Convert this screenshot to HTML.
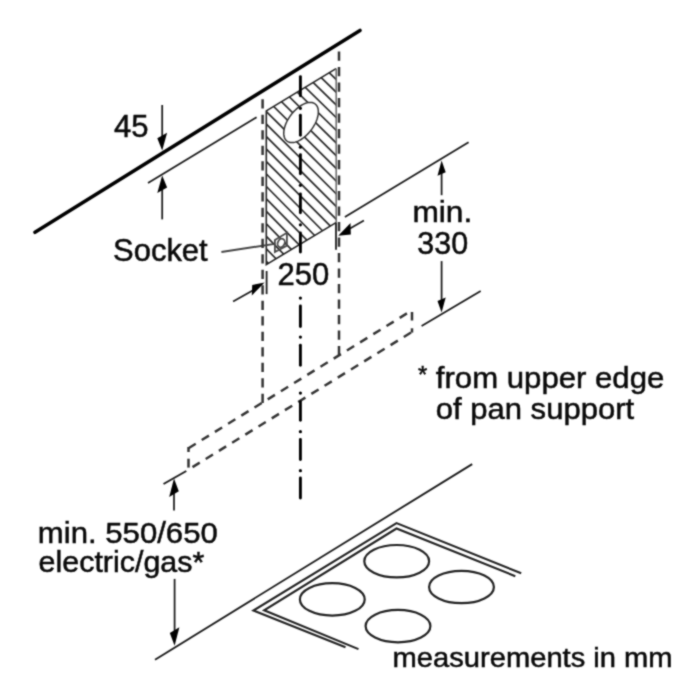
<!DOCTYPE html>
<html><head><meta charset="utf-8"><title>Installation dimensions</title>
<style>
html,body{margin:0;padding:0;background:#fff;}
body{width:700px;height:700px;overflow:hidden;}
svg{display:block;}
text{font-family:"Liberation Sans",Arial,Helvetica,sans-serif;fill:#0a0a0a;stroke:#0a0a0a;stroke-width:0.5px;}
</style></head>
<body>
<svg width="700" height="700" viewBox="0 0 700 700">
<defs><filter id="soft" x="0" y="0" width="700" height="700" filterUnits="userSpaceOnUse" color-interpolation-filters="sRGB"><feConvolveMatrix order="3" kernelMatrix="0.0435 0.1015 0.0435 0.1015 0.4200 0.1015 0.0435 0.1015 0.0435" edgeMode="duplicate" preserveAlpha="true"/></filter></defs>
<rect width="700" height="700" fill="#fff"/>
<g filter="url(#soft)">
<rect width="700" height="700" fill="#fff"/>
<line x1="35.00" y1="232.30" x2="360.00" y2="30.40" stroke="#000" stroke-width="3.5" stroke-linecap="round"/>
<line x1="148.00" y1="183.00" x2="256.60" y2="117.20" stroke="#1c1c1c" stroke-width="1.8" />
<line x1="162.20" y1="105.00" x2="162.20" y2="140.00" stroke="#1c1c1c" stroke-width="1.75" />
<polygon points="162.20,150.40 157.30,138.30 167.10,132.70" fill="#000"/>
<line x1="162.20" y1="219.40" x2="162.20" y2="186.00" stroke="#1c1c1c" stroke-width="1.75" />
<polygon points="162.20,175.40 167.10,187.50 157.30,193.10" fill="#000"/>
<defs><clipPath id="rc"><polygon points="266.3,110.9 336,68.6 336,222.6 266.3,264.6"/></clipPath></defs>
<g clip-path="url(#rc)">
<line x1="260.00" y1="-6.71" x2="342.00" y2="72.39" stroke="#2a2a2a" stroke-width="1.7" />
<line x1="260.00" y1="5.74" x2="342.00" y2="85.11" stroke="#2a2a2a" stroke-width="1.7" />
<line x1="260.00" y1="18.19" x2="342.00" y2="97.83" stroke="#2a2a2a" stroke-width="1.7" />
<line x1="260.00" y1="30.64" x2="342.00" y2="110.55" stroke="#2a2a2a" stroke-width="1.7" />
<line x1="260.00" y1="43.09" x2="342.00" y2="123.27" stroke="#2a2a2a" stroke-width="1.7" />
<line x1="260.00" y1="55.54" x2="342.00" y2="135.99" stroke="#2a2a2a" stroke-width="1.7" />
<line x1="260.00" y1="67.99" x2="342.00" y2="148.71" stroke="#2a2a2a" stroke-width="1.7" />
<line x1="260.00" y1="80.44" x2="342.00" y2="161.43" stroke="#2a2a2a" stroke-width="1.7" />
<line x1="260.00" y1="92.89" x2="342.00" y2="174.15" stroke="#2a2a2a" stroke-width="1.7" />
<line x1="260.00" y1="105.34" x2="342.00" y2="186.87" stroke="#2a2a2a" stroke-width="1.7" />
<line x1="260.00" y1="117.79" x2="342.00" y2="199.59" stroke="#2a2a2a" stroke-width="1.7" />
<line x1="260.00" y1="130.23" x2="342.00" y2="212.31" stroke="#2a2a2a" stroke-width="1.7" />
<line x1="260.00" y1="142.68" x2="342.00" y2="225.02" stroke="#2a2a2a" stroke-width="1.7" />
<line x1="260.00" y1="155.13" x2="342.00" y2="237.74" stroke="#2a2a2a" stroke-width="1.7" />
<line x1="260.00" y1="167.58" x2="342.00" y2="250.46" stroke="#2a2a2a" stroke-width="1.7" />
<line x1="260.00" y1="180.03" x2="342.00" y2="263.18" stroke="#2a2a2a" stroke-width="1.7" />
<line x1="260.00" y1="192.48" x2="342.00" y2="275.90" stroke="#2a2a2a" stroke-width="1.7" />
<line x1="260.00" y1="204.93" x2="342.00" y2="288.62" stroke="#2a2a2a" stroke-width="1.7" />
<line x1="260.00" y1="217.38" x2="342.00" y2="301.34" stroke="#2a2a2a" stroke-width="1.7" />
<line x1="260.00" y1="229.83" x2="342.00" y2="314.06" stroke="#2a2a2a" stroke-width="1.7" />
<line x1="260.00" y1="242.28" x2="342.00" y2="326.78" stroke="#2a2a2a" stroke-width="1.7" />
<line x1="260.00" y1="254.73" x2="342.00" y2="339.50" stroke="#2a2a2a" stroke-width="1.7" />
<line x1="260.00" y1="267.18" x2="342.00" y2="352.22" stroke="#2a2a2a" stroke-width="1.7" />
</g>
<polyline points="336,222.6 266.3,264.6 266.3,110.9 336,68.6" fill="none" stroke="#222" stroke-width="1.6"/>
<line x1="336.20" y1="68.60" x2="336.20" y2="222.60" stroke="#666" stroke-width="1.5" />
<polygon points="318.35,111.80 318.28,113.32 318.09,114.91 317.76,116.56 317.31,118.26 316.73,119.99 316.03,121.73 315.22,123.49 314.30,125.23 313.28,126.95 312.17,128.64 310.97,130.29 309.70,131.87 308.36,133.39 306.97,134.82 305.53,136.15 304.05,137.38 302.56,138.50 301.05,139.50 299.54,140.37 298.05,141.10 296.57,141.69 295.13,142.13 293.74,142.43 292.40,142.57 291.13,142.56 289.93,142.40 288.82,142.09 287.80,141.62 286.88,141.02 286.07,140.27 285.37,139.38 284.79,138.37 284.34,137.24 284.01,135.99 283.82,134.64 283.75,133.20 283.82,131.68 284.01,130.09 284.34,128.44 284.79,126.74 285.37,125.01 286.07,123.27 286.88,121.51 287.80,119.77 288.82,118.05 289.93,116.36 291.13,114.71 292.40,113.13 293.74,111.61 295.13,110.18 296.57,108.85 298.05,107.62 299.54,106.50 301.05,105.50 302.56,104.63 304.05,103.90 305.53,103.31 306.97,102.87 308.36,102.57 309.70,102.43 310.97,102.44 312.17,102.60 313.28,102.91 314.30,103.38 315.22,103.98 316.03,104.73 316.73,105.62 317.31,106.63 317.76,107.76 318.09,109.01 318.28,110.36" fill="#fff" stroke="#333" stroke-width="1.5"/>
<polygon points="274.9,240.0 286.9,232.8 286.9,245.6 274.9,252.0" fill="none" stroke="#4a4a4a" stroke-width="1.8"/>
<ellipse cx="281.2" cy="243.0" rx="3.4" ry="4.4" fill="#fff" stroke="#4a4a4a" stroke-width="1.8" transform="rotate(25 281.2 243.0)"/>
<line x1="221.40" y1="252.00" x2="274.60" y2="243.90" stroke="#444" stroke-width="1.9" />
<line x1="262.60" y1="99.20" x2="262.60" y2="403.00" stroke="#333" stroke-width="2.5" stroke-dasharray="9.2 6.3"/>
<line x1="339.00" y1="51.50" x2="339.00" y2="355.80" stroke="#333" stroke-width="2.5" stroke-dasharray="9.2 6.3"/>
<line x1="188.50" y1="448.20" x2="412.00" y2="310.30" stroke="#333" stroke-width="2.5" stroke-dasharray="8.5 7.01"/>
<line x1="188.50" y1="469.60" x2="412.00" y2="331.90" stroke="#333" stroke-width="2.5" stroke-dasharray="8.5 7.01" stroke-dashoffset="10.8"/>
<line x1="188.50" y1="447.00" x2="188.50" y2="452.00" stroke="#333" stroke-width="2.5" />
<line x1="188.50" y1="458.70" x2="188.50" y2="467.60" stroke="#333" stroke-width="2.5" />
<line x1="412.00" y1="312.00" x2="412.00" y2="320.50" stroke="#333" stroke-width="2.5" />
<line x1="412.00" y1="328.30" x2="412.00" y2="332.60" stroke="#333" stroke-width="2.5" />
<line x1="300.40" y1="76.60" x2="300.40" y2="95.80" stroke="#000" stroke-width="2.9" stroke-linecap="round"/>
<line x1="300.40" y1="115.20" x2="300.40" y2="135.20" stroke="#000" stroke-width="2.9" stroke-linecap="round"/>
<line x1="300.40" y1="154.60" x2="300.40" y2="173.80" stroke="#000" stroke-width="2.9" stroke-linecap="round"/>
<line x1="300.40" y1="193.90" x2="300.40" y2="212.80" stroke="#000" stroke-width="2.9" stroke-linecap="round"/>
<line x1="300.40" y1="232.90" x2="300.40" y2="252.00" stroke="#000" stroke-width="2.9" stroke-linecap="round"/>
<line x1="300.40" y1="305.90" x2="300.40" y2="326.60" stroke="#000" stroke-width="2.9" stroke-linecap="round"/>
<line x1="300.40" y1="345.20" x2="300.40" y2="365.20" stroke="#000" stroke-width="2.9" stroke-linecap="round"/>
<line x1="300.40" y1="401.60" x2="300.40" y2="420.20" stroke="#000" stroke-width="2.9" stroke-linecap="round"/>
<line x1="300.40" y1="439.50" x2="300.40" y2="459.50" stroke="#000" stroke-width="2.9" stroke-linecap="round"/>
<line x1="300.40" y1="478.00" x2="300.40" y2="498.10" stroke="#000" stroke-width="2.9" stroke-linecap="round"/>
<circle cx="300.4" cy="108.3" r="1.6" fill="#000"/>
<circle cx="300.4" cy="147.2" r="1.6" fill="#000"/>
<circle cx="300.4" cy="185.3" r="1.6" fill="#000"/>
<circle cx="300.4" cy="224.8" r="1.6" fill="#000"/>
<circle cx="300.4" cy="298.1" r="1.6" fill="#000"/>
<circle cx="300.4" cy="337.1" r="1.6" fill="#000"/>
<circle cx="300.4" cy="393.1" r="1.6" fill="#000"/>
<circle cx="300.4" cy="431.7" r="1.6" fill="#000"/>
<circle cx="300.4" cy="470.7" r="1.6" fill="#000"/>
<line x1="266.60" y1="271.00" x2="266.60" y2="294.10" stroke="#1c1c1c" stroke-width="1.8" />
<line x1="336.00" y1="222.60" x2="336.00" y2="249.70" stroke="#1c1c1c" stroke-width="1.8" />
<line x1="233.10" y1="301.40" x2="254.00" y2="289.80" stroke="#1c1c1c" stroke-width="1.75" />
<polygon points="264.6,282.5 252.2,284.9 251.8,295.6" fill="#000"/>
<line x1="363.90" y1="220.50" x2="350.00" y2="228.50" stroke="#1c1c1c" stroke-width="1.75" />
<polygon points="338.2,235.8 350.5,223.0 350.8,234.5" fill="#000"/>
<line x1="344.90" y1="216.90" x2="468.60" y2="142.30" stroke="#1c1c1c" stroke-width="1.8" />
<line x1="421.60" y1="326.10" x2="480.70" y2="291.10" stroke="#1c1c1c" stroke-width="1.8" />
<line x1="441.60" y1="172.00" x2="441.60" y2="195.20" stroke="#1c1c1c" stroke-width="1.75" />
<polygon points="441.60,160.60 445.70,172.25 437.50,175.75" fill="#000"/>
<line x1="441.60" y1="261.10" x2="441.60" y2="300.00" stroke="#1c1c1c" stroke-width="1.75" />
<polygon points="441.60,312.60 437.50,300.95 445.70,297.45" fill="#000"/>
<line x1="163.50" y1="484.00" x2="186.30" y2="471.00" stroke="#1c1c1c" stroke-width="2.0" />
<line x1="155.00" y1="659.70" x2="472.20" y2="464.10" stroke="#1c1c1c" stroke-width="1.85" />
<line x1="174.00" y1="492.00" x2="174.00" y2="510.60" stroke="#1c1c1c" stroke-width="1.75" />
<polygon points="174.00,478.60 178.80,491.30 169.20,497.10" fill="#000"/>
<line x1="174.60" y1="578.90" x2="174.60" y2="634.00" stroke="#1c1c1c" stroke-width="1.75" />
<polygon points="174.60,645.80 169.80,633.10 179.40,627.30" fill="#000"/>
<polyline points="345.5,647.3 253.4,610.5 396.5,523.1 521.2,573.3" fill="none" stroke="#222" stroke-width="2.1"/>
<polyline points="358.5,649.1 264.1,610.3 396.5,528.5 515.3,576.2" fill="none" stroke="#222" stroke-width="2.1"/>
<ellipse cx="396.7" cy="561.2" rx="32.4" ry="16.2" fill="none" stroke="#222" stroke-width="2.2"/>
<ellipse cx="332.3" cy="599.4" rx="32.4" ry="16.2" fill="none" stroke="#222" stroke-width="2.2"/>
<ellipse cx="461.5" cy="587" rx="32.4" ry="16.2" fill="none" stroke="#222" stroke-width="2.2"/>
<ellipse cx="398" cy="626.1" rx="32.4" ry="16.2" fill="none" stroke="#222" stroke-width="2.2"/>
<text x="113.93" y="137.00" font-size="31" textLength="34.54" lengthAdjust="spacingAndGlyphs">45</text>
<text x="113.11" y="260.70" font-size="30.5" textLength="94.56" lengthAdjust="spacingAndGlyphs">Socket</text>
<text x="277.40" y="284.90" font-size="31" textLength="51.74" lengthAdjust="spacingAndGlyphs">250</text>
<text x="412.44" y="222.30" font-size="29" textLength="59.84" lengthAdjust="spacingAndGlyphs">min.</text>
<text x="417.33" y="253.60" font-size="31" textLength="50.79" lengthAdjust="spacingAndGlyphs">330</text>
<text x="37.88" y="542.80" font-size="29.5" textLength="179.87" lengthAdjust="spacingAndGlyphs">min. 550/650</text>
<text x="38.63" y="572.00" font-size="29.3" textLength="165.63" lengthAdjust="spacingAndGlyphs">electric/gas*</text>
<text x="418.05" y="383.40" font-size="24" textLength="9.27" lengthAdjust="spacingAndGlyphs">*</text>
<text x="435.83" y="388.00" font-size="30" textLength="228.50" lengthAdjust="spacingAndGlyphs">from upper edge</text>
<text x="435.70" y="418.80" font-size="30" textLength="198.46" lengthAdjust="spacingAndGlyphs">of pan support</text>
<text x="392.61" y="666.90" font-size="27.5" textLength="280.00" lengthAdjust="spacingAndGlyphs">measurements in mm</text>
</g>
</svg>
</body></html>
